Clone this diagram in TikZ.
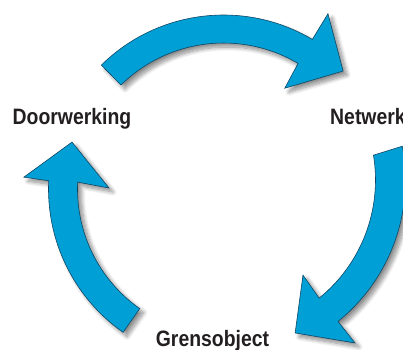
\documentclass[tikz,border=0pt]{standalone}
\usepackage{fontspec}
\usepackage{xcolor}
\usetikzlibrary{shadows.blur}
\newfontfamily\labelfont[FakeStretch=0.87]{Liberation Sans}
\definecolor{arrowblue}{RGB}{0,160,214}
\definecolor{arrowedge}{RGB}{16,70,100}
\definecolor{labelgray}{RGB}{35,31,32}

\begin{document}
\begin{tikzpicture}[x=1pt,y=1pt,
  cyclearrow/.style={fill=arrowblue,draw=arrowedge,line width=0.6pt,line join=miter,
    blur shadow={shadow xshift=4pt,shadow yshift=-4pt,shadow blur radius=4pt,shadow blur steps=10,shadow opacity=45}},
  steplabel/.style={font=\labelfont\bfseries\fontsize{22.3}{26}\selectfont,text=labelgray,inner sep=0pt}]
\useasboundingbox (0,0) rectangle (403,349);
\clip (0,0) rectangle (403,349);
% arrows round the circle
\begin{scope}[shift={(223.5,160)}]
\draw[cyclearrow] (134.6:174) arc[start angle=134.6,end angle=59.3,radius=174] -- (59.2:204) -- (44.6:168) -- (58.7:118) -- (59.3:146) arc[start angle=59.3,end angle=134.6,radius=146] -- cycle;
\draw[cyclearrow] (235:175) arc[start angle=235,end angle=177.3,radius=175] -- (176.6:200) -- (162.8:158.6) -- (179.5:114.5) -- (177.3:146) arc[start angle=177.3,end angle=235,radius=146] -- cycle;
\end{scope}
\begin{scope}[shift={(223.5,169)}]
\draw[cyclearrow] (10.7:182) arc[start angle=10.7,end angle=-51,radius=182] -- (-51.1:209.4) -- (-64.9:168.9) -- (-50.1:123.9) -- (-51:152) arc[start angle=-51,end angle=9.4,radius=152] -- cycle;
\end{scope}
% labels
\node (door) at (72,224.5) [steplabel,anchor=base] {Doorwerking};
\node (netw) at (330,224.5) [steplabel,anchor=base west] {Netwerk};
\node (grens) at (212.5,3) [steplabel,anchor=base] {Grensobject};
\end{tikzpicture}
\end{document}
